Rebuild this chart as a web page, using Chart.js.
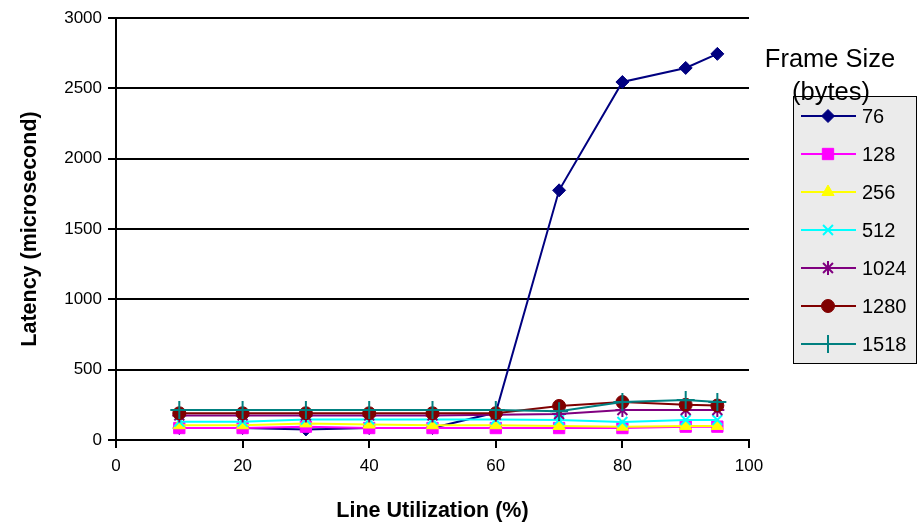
<!DOCTYPE html>
<html>
<head>
<meta charset="utf-8">
<script src="https://cdn.jsdelivr.net/npm/chart.js@4/dist/chart.umd.min.js"></script>
<style>
  html, body { margin: 0; padding: 0; background: #ffffff; }
  #wrap { width: 919px; height: 532px; }
</style>
</head>
<body>
<div id="wrap"><canvas id="c" width="919" height="532"></canvas></div>
<script>
// Line utilization (%) at which latency was measured
const utilization = [10, 20, 30, 40, 50, 60, 70, 80, 90, 95];

// Latency (microseconds) per frame size
const lat76   = [85, 85, 75, 85, 85, 195, 1775, 2545, 2645, 2745];
const lat128  = [85, 85, 95, 85, 85, 85, 85, 85, 95, 95];
const lat256  = [105, 105, 118, 110, 105, 105, 100, 95, 100, 100];
const lat512  = [130, 130, 145, 145, 145, 145, 142, 128, 142, 142];
const lat1024 = [175, 175, 175, 175, 175, 180, 185, 213, 213, 213];
const lat1280 = [190, 190, 190, 190, 190, 190, 242, 270, 250, 245];
const lat1518 = [213, 213, 213, 213, 213, 213, 205, 270, 285, 270];

const frameSizes = ['76', '128', '256', '512', '1024', '1280', '1518'];
const seriesValues = [lat76, lat128, lat256, lat512, lat1024, lat1280, lat1518];

const xTicks = [0, 20, 40, 60, 80, 100];
const yTicks = [0, 500, 1000, 1500, 2000, 2500, 3000];

const styles = [
  { color: '#000080', point: 'rectRot',  radius: 6.5, bw: 1 },
  { color: '#FF00FF', point: 'rect',     radius: 8,   bw: 1 },
  { color: '#FFFF00', point: 'triangle', radius: 7,   bw: 1 },
  { color: '#00FFFF', point: 'crossRot', radius: 7,   bw: 2 },
  { color: '#800080', point: 'star',     radius: 7,   bw: 2 },
  { color: '#800000', point: 'circle',   radius: 6.5, bw: 1 },
  { color: '#008080', point: 'cross',    radius: 9,   bw: 2 }
];

const FONT = '"Liberation Sans", Arial, sans-serif';

const datasets = frameSizes.map((label, i) => ({
  label: label,
  data: utilization.map((u, k) => ({ x: u, y: seriesValues[i][k] })),
  borderColor: styles[i].color,
  backgroundColor: styles[i].color,
  borderWidth: 2,
  pointStyle: styles[i].point,
  pointRadius: styles[i].radius,
  pointBorderWidth: styles[i].bw,
  pointBackgroundColor: styles[i].color,
  pointBorderColor: styles[i].color,
  tension: 0,
  order: frameSizes.length - i
}));

// Boxed legend with a heading, drawn to the right of the plot
const boxLegend = {
  id: 'boxLegend',
  afterDraw(chart) {
    const ctx = chart.ctx;
    ctx.save();
    const bx = 793, by = 96, bw = 124, bh = 268;
    ctx.fillStyle = '#ebebeb';
    ctx.fillRect(bx, by, bw, bh);
    ctx.strokeStyle = '#000000';
    ctx.lineWidth = 1;
    ctx.strokeRect(bx + 0.5, by + 0.5, bw - 1, bh - 1);

    ctx.fillStyle = '#000000';
    ctx.font = '25.5px ' + FONT;
    ctx.textAlign = 'center';
    ctx.textBaseline = 'alphabetic';
    ctx.fillText('Frame Size', 830, 67);
    ctx.fillText('(bytes)', 831, 100);

    chart.data.datasets.forEach((ds, i) => {
      const y = 116 + i * 38;
      ctx.strokeStyle = ds.borderColor;
      ctx.lineWidth = 2;
      ctx.beginPath();
      ctx.moveTo(801, y);
      ctx.lineTo(856, y);
      ctx.stroke();
      ctx.fillStyle = ds.pointBackgroundColor;
      ctx.strokeStyle = ds.pointBorderColor;
      ctx.lineWidth = ds.pointBorderWidth;
      Chart.helpers.drawPoint(ctx, {
        pointStyle: ds.pointStyle,
        radius: ds.pointRadius,
        rotation: 0,
        borderWidth: ds.pointBorderWidth
      }, 828, y);
      ctx.fillStyle = '#000000';
      ctx.font = '20px ' + FONT;
      ctx.textAlign = 'left';
      ctx.textBaseline = 'middle';
      ctx.fillText(ds.label, 862, y + 1);
    });
    ctx.restore();
  }
};

new Chart(document.getElementById('c'), {
  type: 'line',
  data: { datasets: datasets },
  options: {
    responsive: false,
    animation: false,
    devicePixelRatio: 1,
    layout: { padding: { left: 17, right: 170, top: 18, bottom: 0 } },
    plugins: {
      legend: { display: false },
      tooltip: { enabled: false }
    },
    scales: {
      x: {
        type: 'linear',
        min: 0,
        max: 100,
        afterBuildTicks(scale) { scale.ticks = xTicks.map(v => ({ value: v })); },
        afterFit(scale) { scale.height = 92; },
        border: { display: true, color: '#000000', width: 2 },
        grid: {
          drawOnChartArea: false,
          drawTicks: true,
          tickLength: 8,
          color: '#000000',
          lineWidth: 2
        },
        ticks: {
          color: '#000000',
          font: { family: FONT, size: 17 },
          padding: 8,
          maxRotation: 0,
          callback: v => String(v)
        },
        title: {
          display: true,
          text: 'Line Utilization (%)',
          color: '#000000',
          font: { family: FONT, size: 21.5, weight: 'bold' },
          padding: { top: 10, bottom: 8 }
        }
      },
      y: {
        type: 'linear',
        min: 0,
        max: 3000,
        afterBuildTicks(scale) { scale.ticks = yTicks.map(v => ({ value: v })); },
        afterFit(scale) { scale.width = 99; },
        border: { display: true, color: '#000000', width: 2 },
        grid: {
          drawOnChartArea: true,
          drawTicks: true,
          tickLength: 8,
          color: '#000000',
          lineWidth: 2
        },
        ticks: {
          color: '#000000',
          font: { family: FONT, size: 17 },
          padding: 6,
          callback: v => String(v)
        },
        title: {
          display: true,
          text: 'Latency (microsecond)',
          color: '#000000',
          font: { family: FONT, size: 21.5, weight: 'bold' },
          padding: { top: 0, bottom: 10 }
        }
      }
    }
  },
  plugins: [boxLegend]
});
</script>
</body>
</html>
